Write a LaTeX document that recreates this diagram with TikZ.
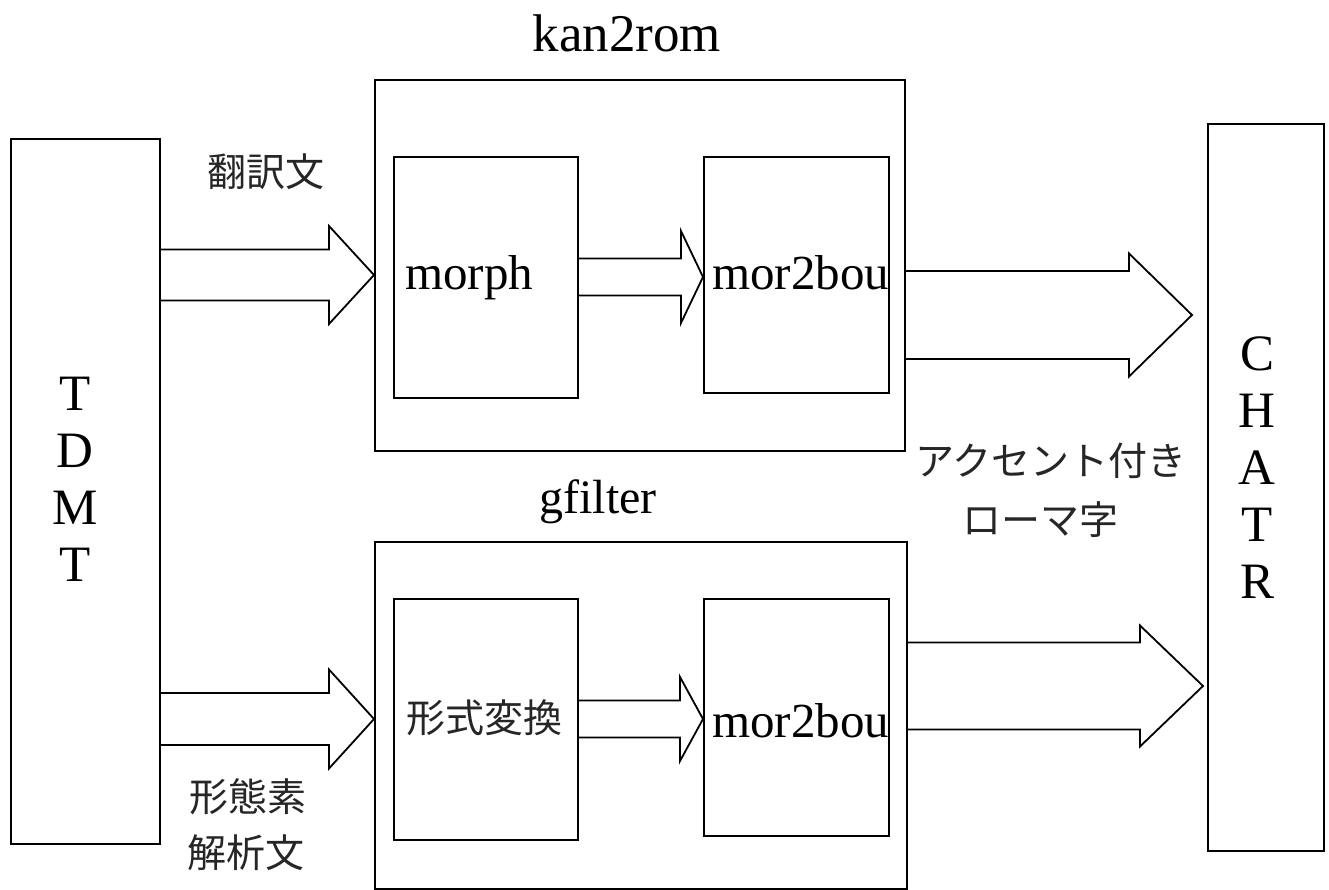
\documentclass[tikz,border=0pt]{standalone}
\usepackage{fontspec}
\setmainfont{Liberation Serif}
\newfontfamily\jpfont{Noto Sans CJK JP}
\usetikzlibrary{calc}
\newcommand\blockarrow[5]{%
  \draw[conn] let \p1=(#1), \p2=(#2) in
   (\x1,\y2+#3pt) -- (\x2-#5pt,\y2+#3pt) -- (\x2-#5pt,\y2+#4pt) -- (\x2,\y2)
   -- (\x2-#5pt,\y2-#4pt) -- (\x2-#5pt,\y2-#3pt) -- (\x1,\y2-#3pt);}
\begin{document}
\begin{tikzpicture}[x=1pt,y=-1pt,
  blk/.style={draw, line width=1.8pt, anchor=north west, inner sep=0pt},
  conn/.style={draw, line width=1.8pt, line join=miter},
  lbl/.style={inner sep=0pt, anchor=base west, font=\fontsize{49}{56}\selectfont},
  ttl/.style={inner sep=0pt, anchor=base, font=\fontsize{48}{56}\selectfont},
  vert/.style={inner sep=0pt, align=center, font=\fontsize{51}{57}\selectfont},
  jp/.style={inner sep=0pt, text=black!85, font=\jpfont\fontsize{39}{56}\selectfont}]
\useasboundingbox[fill=white] (0,0) rectangle (1329,890);

% main boxes
\node[blk, minimum width=149pt, minimum height=705pt] (tdmt) at (10,138) {};
\node[blk, minimum width=116pt, minimum height=727pt] (chatr) at (1207,123) {};
\node[blk, minimum width=530pt, minimum height=371pt] (kan) at (374,79) {};
\node[blk, minimum width=184pt, minimum height=241pt] (morph) at (393,156) {};
\node[blk, minimum width=185pt, minimum height=236pt] (mtb1) at (703,156) {};
\node[blk, minimum width=532pt, minimum height=347pt] (gf) at (374,541) {};
\node[blk, minimum width=184pt, minimum height=241pt] (kei) at (393,598) {};
\node[blk, minimum width=185pt, minimum height=237pt] (mtb2) at (703,598) {};

% texts
\node[vert] (tdmtT) at (75,479) {T\\D\\M\\T};
\node[vert] (chatrT) at (1257,468) {C\\H\\A\\T\\R};
\node[ttl, font=\fontsize{53}{56}\selectfont] (kanT) at (627,52) {kan2rom};
\node[ttl] (gfT) at (598,513) {gfilter};
\node[lbl] (morphT) at (405,290) {morph};
\node[lbl] (mtb1T) at (712,290) {mor2bou};
\node[lbl] (mtb2T) at (712,737) {mor2bou};
\node[jp] (keiT) at (484,718) {形式変換};
\node[jp] (hon) at (266,172) {翻訳文};
\node[jp] (kei1) at (248,797) {形態素};
\node[jp] (kei2) at (246,853) {解析文};
\node[jp] (acc1) at (1051,461) {アクセント付き};
\node[jp] (acc2) at (1040,520) {ローマ字};

% block arrows
\blockarrow{tdmt.east}{kan.west |- 0,275}{25.5}{49}{45}
\blockarrow{morph.east}{mtb1.west |- 0,277}{18.5}{46}{22}
\blockarrow{kan.east}{$(chatr.west |- 0,315)+(-15,0)$}{44}{61.5}{63}
\blockarrow{tdmt.east}{gf.west |- 0,719}{26}{49.5}{45}
\blockarrow{kei.east}{mtb2.west |- 0,719}{18.5}{42}{23}
\blockarrow{gf.east}{$(chatr.west |- 0,686)+(-4,0)$}{43.5}{60.5}{63}
\end{tikzpicture}
\end{document}
